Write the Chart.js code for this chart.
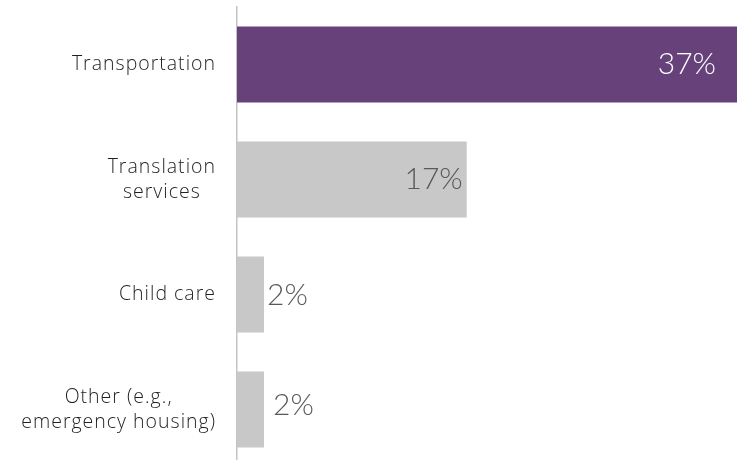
<!DOCTYPE html>
<html>
<head>
<meta charset="utf-8">
<script src="https://cdn.jsdelivr.net/npm/chart.js@4/dist/chart.umd.min.js"></script>
<style>
  html, body { margin: 0; padding: 0; background: #ffffff; overflow: hidden; }
  #wrap { width: 742px; height: 468px; }
</style>
</head>
<body>
<div id="wrap"><canvas id="c" width="742" height="468"></canvas></div>
<script>
// Support services needed (share of respondents, %)
const categories = [
  ['Transportation'],
  ['Translation', 'services'],
  ['Child care'],
  ['Other (e.g.,', 'emergency housing)']
];
const values = [37, 17, 2, 2];
const valueLabels = ['37%', '17%', '2%', '2%'];

const PURPLE = '#66417A';
const GREY = '#C8C8C8';
const FONT = 'Lato, "Open Sans", sans-serif';
const CAT_FONT = '"Open Sans", Lato, sans-serif';

// Category names: each block right-aligned to the axis, lines centred within it
const categoryLabels = {
  id: 'categoryLabels',
  afterDraw(chart) {
    const ctx = chart.ctx;
    const y = chart.scales.y;
    const right = y.right - 22;
    const lineH = 25;
    ctx.save();
    ctx.font = '300 19.5px ' + CAT_FONT;
    ctx.letterSpacing = '1px';
    ctx.fillStyle = '#1f1f1f';
    ctx.textAlign = 'left';
    ctx.textBaseline = 'middle';
    categories.forEach((lines, i) => {
      const cy = y.getPixelForValue(i);
      const widths = lines.map(l => ctx.measureText(l).width - 1);
      const w = Math.max(...widths);
      const top = cy - (lines.length - 1) * lineH / 2;
      lines.forEach((l, j) => {
        const x = right - w + (w - widths[j]) / 2;
        ctx.fillText(l, x, top + j * lineH);
      });
    });
    ctx.restore();
  }
};

// Value labels: inside the bar end for long bars, just past the end for short ones
const valueLabelPlugin = {
  id: 'valueLabelPlugin',
  afterDatasetsDraw(chart) {
    const ctx = chart.ctx;
    const meta = chart.getDatasetMeta(0);
    ctx.save();
    ctx.font = '300 30px ' + FONT;
    ctx.textBaseline = 'middle';
    meta.data.forEach((bar, i) => {
      const width = bar.x - bar.base;
      if (width > 100) {
        ctx.textAlign = 'right';
        ctx.fillStyle = i === 0 ? '#ffffff' : '#595959';
        ctx.fillText(valueLabels[i], bar.x - (i === 0 ? 21 : 4), bar.y);
      } else {
        ctx.textAlign = 'left';
        ctx.fillStyle = '#595959';
        const shift = i === 3 ? 9 : 3;
        ctx.fillText(valueLabels[i], bar.x + shift, bar.y + (i === 3 ? -4 : 1));
      }
    });
    ctx.restore();
  }
};

new Chart(document.getElementById('c'), {
  type: 'bar',
  data: {
    labels: categories,
    datasets: [{
      data: values,
      backgroundColor: values.map((v, i) => i === 0 ? PURPLE : GREY),
      borderWidth: 0,
      categoryPercentage: 0.66,
      barPercentage: 1
    }]
  },
  options: {
    indexAxis: 'y',
    responsive: false,
    animation: false,
    layout: { padding: { top: 7, bottom: 1, left: 0, right: 5 } },
    plugins: { legend: { display: false }, tooltip: { enabled: false } },
    scales: {
      x: { display: false, min: 0, max: 37 },
      y: {
        grid: { display: false, drawTicks: false },
        border: { display: true, color: '#C4C4C4', width: 1.5 },
        ticks: { display: false },
        afterFit(scale) { scale.width = 237; }
      }
    }
  },
  plugins: [categoryLabels, valueLabelPlugin]
});
</script>
</body>
</html>
